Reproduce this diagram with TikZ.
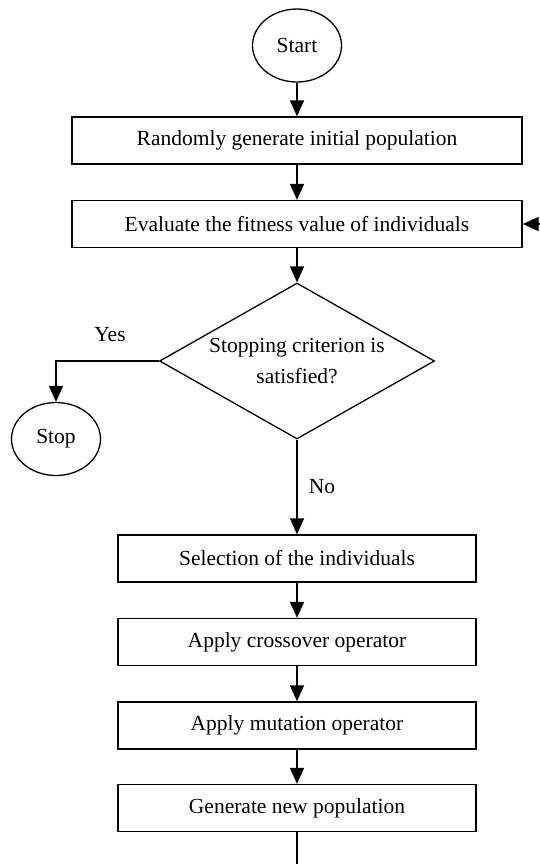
\documentclass[tikz,border=0pt]{standalone}
\usepackage{fontspec}
\setmainfont{Liberation Serif}
\usetikzlibrary{arrows.meta, shapes.geometric}

\begin{document}
\begin{tikzpicture}[x=0.5pt, y=-0.5pt, >={Triangle[length=8pt, width=7pt]}, line width=0.65pt,
  font=\fontsize{10.75}{15.5}\selectfont,
  terminal/.style={draw, ellipse, inner sep=0pt, minimum width=44.5pt, minimum height=36.5pt},
  widebox/.style={draw, rectangle, inner sep=0pt, minimum width=225pt, minimum height=23.5pt},
  narrowbox/.style={draw, rectangle, inner sep=0pt, minimum width=179pt, minimum height=23.5pt},
  decision/.style={draw, diamond, aspect=1.76, inner sep=0pt, minimum width=137.5pt, minimum height=78pt, align=center}]
  \useasboundingbox (0,0) rectangle (540,864);
  % ===== Upper part =====
  \node[terminal] (start) at (297,45.5) {Start};
  \node[widebox] (init) at (297,140.5) {Randomly generate initial population};
  \node[widebox] (eval) at (297,224) {Evaluate the fitness value of individuals};
  \node[decision] (crit) at (297,361) {Stopping criterion is\\satisfied?};
  \node[terminal] (stop) at (56,439) {Stop};
  \node (yes) at (110,335) {Yes};
  \node (no) at (322,487) {No};
  \draw[->] (start) -- (init);
  \draw[->] (init) -- (eval);
  \draw[->] (eval) -- (crit);
  \draw[->] (crit.west) -| (stop.north);
  % ===== Lower part =====
  \node[narrowbox] (sel) at (297,558.5) {Selection of the individuals};
  \node[narrowbox] (cross) at (297,642) {Apply crossover operator};
  \node[narrowbox] (mut) at (297,725.5) {Apply mutation operator};
  \node[narrowbox] (gen) at (297,808) {Generate new population};
  \draw[->] (crit.south) -- (sel);
  \draw[->] (sel) -- (cross);
  \draw[->] (cross) -- (mut);
  \draw[->] (mut) -- (gen);
  % ===== Loop back =====
  \coordinate (loopout) at (297,864); \coordinate (loopin) at (540,224);
  \draw (gen) -- (loopout);
  \draw[->] (loopin) -- (eval.east);
\end{tikzpicture}
\end{document}
